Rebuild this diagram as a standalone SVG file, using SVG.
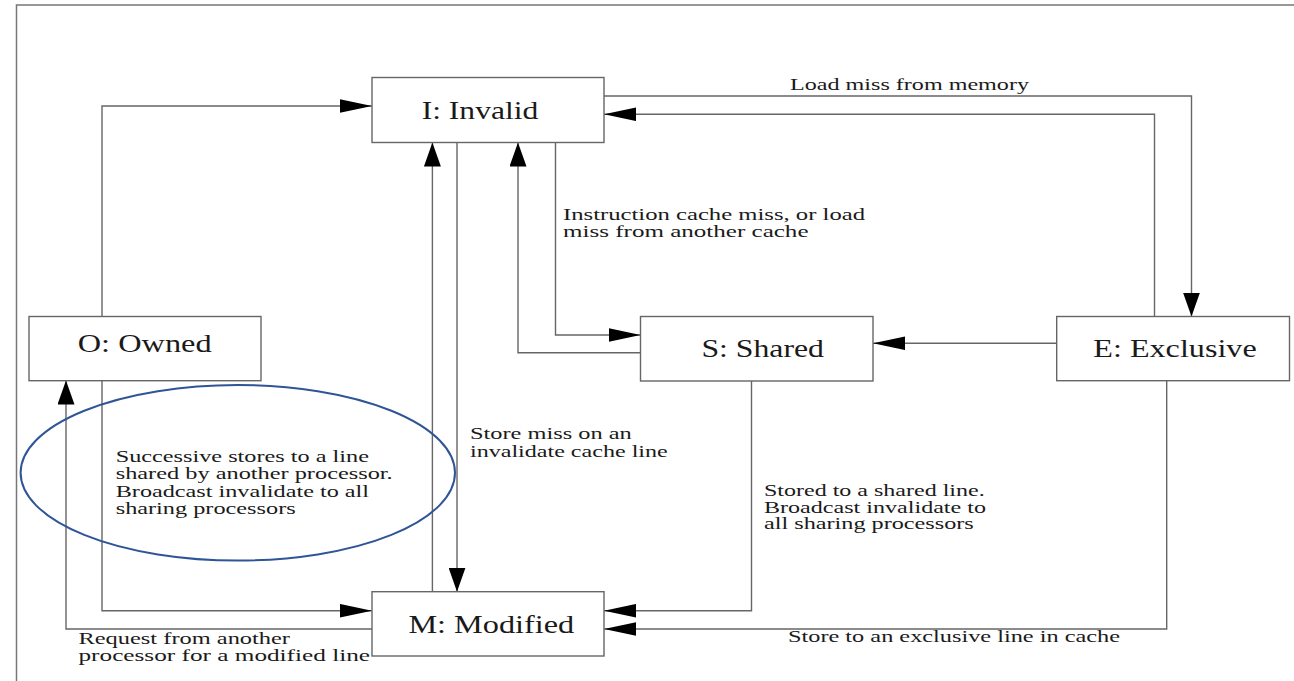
<svg xmlns="http://www.w3.org/2000/svg" width="1294" height="681" viewBox="0 0 1294 681">
<style>
.box{fill:#fff;stroke:#666;stroke-width:1.4}
.lbl{font-size:26px;fill:#1a1a1a}
.t{font-size:16px;fill:#1a1a1a}
.ln{fill:none;stroke:#666;stroke-width:1.4}
.frame{fill:none;stroke:#777;stroke-width:1.5}
</style>
<defs>
<marker id="ah" markerUnits="userSpaceOnUse" markerWidth="32" markerHeight="14" refX="32" refY="6.75" orient="auto" viewBox="0 0 32 13.5">
<path d="M0,0 L32,6.75 L0,13.5 z" fill="#000"/>
</marker>
<marker id="av" markerUnits="userSpaceOnUse" markerWidth="24" markerHeight="17" refX="24" refY="8.5" orient="auto" viewBox="0 0 24 17">
<path d="M0,0 L24,8.5 L0,17 z" fill="#000"/>
</marker>
</defs>
<rect width="1294" height="681" fill="#fff"/>
<path class="frame" d="M16.5,681 V5 H1294"/>

<g font-family="'Liberation Serif', 'DejaVu Serif', serif">
<g id="connectors">
<path class="ln" marker-end="url(#ah)" d="M102,316.5 V106 H372"/>
<path class="ln" marker-end="url(#ah)" d="M102,380.5 V610.7 H372"/>
<path class="ln" marker-end="url(#av)" d="M372,629 H66 V380.5"/>
<path class="ln" marker-end="url(#av)" d="M432.4,591.7 V142.5"/>
<path class="ln" marker-end="url(#av)" d="M457,142.5 V591.7"/>
<path class="ln" marker-end="url(#av)" d="M640.5,352.7 H518 V142.5"/>
<path class="ln" marker-end="url(#ah)" d="M555.5,142.5 V335 H640.5"/>
<path class="ln" marker-end="url(#av)" d="M604,96 H1191.5 V316.5"/>
<path class="ln" marker-end="url(#ah)" d="M1154.5,316.5 V114.3 H604"/>
<path class="ln" marker-end="url(#ah)" d="M1056.7,343.3 H873"/>
<path class="ln" marker-end="url(#ah)" d="M751.5,381 V610.7 H604"/>
<path class="ln" marker-end="url(#ah)" d="M1166.7,380.7 V629 H604"/>
<text class="t" x="790" y="90" textLength="239" lengthAdjust="spacingAndGlyphs">Load miss from memory</text>
<text class="t" x="563" y="219.5" textLength="302" lengthAdjust="spacingAndGlyphs">Instruction cache miss, or load</text>
<text class="t" x="563" y="237" textLength="245.5" lengthAdjust="spacingAndGlyphs">miss from another cache</text>
<text class="t" x="470" y="439" textLength="161.7" lengthAdjust="spacingAndGlyphs">Store miss on an</text>
<text class="t" x="470" y="456.7" textLength="197.7" lengthAdjust="spacingAndGlyphs">invalidate cache line</text>
<text class="t" x="764" y="496" textLength="220.7" lengthAdjust="spacingAndGlyphs">Stored to a shared line.</text>
<text class="t" x="764" y="512.7" textLength="222" lengthAdjust="spacingAndGlyphs">Broadcast invalidate to</text>
<text class="t" x="764" y="529" textLength="209.8" lengthAdjust="spacingAndGlyphs">all sharing processors</text>
<text class="t" x="78.5" y="644" textLength="211.5" lengthAdjust="spacingAndGlyphs">Request from another</text>
<text class="t" x="78.5" y="661" textLength="291.5" lengthAdjust="spacingAndGlyphs">processor for a modified line</text>
<text class="t" x="788" y="642" textLength="332" lengthAdjust="spacingAndGlyphs">Store to an exclusive line in cache</text>
</g>

<g id="note">
<ellipse cx="237.8" cy="472.8" rx="217.2" ry="87.8" fill="none" stroke="#2F5597" stroke-width="2"/>
<text class="t" x="115.7" y="461.5" textLength="253.3" lengthAdjust="spacingAndGlyphs">Successive stores to a line</text>
<text class="t" x="115.7" y="479" textLength="277" lengthAdjust="spacingAndGlyphs">shared by another processor.</text>
<text class="t" x="115.7" y="496.5" textLength="253.3" lengthAdjust="spacingAndGlyphs">Broadcast invalidate to all</text>
<text class="t" x="115.7" y="514" textLength="180" lengthAdjust="spacingAndGlyphs">sharing processors</text>
</g>

<g id="node-invalid">
<rect class="box" x="372" y="77.5" width="232" height="65"/>
<text class="lbl" x="421.7" y="119" textLength="116.6" lengthAdjust="spacingAndGlyphs">I: Invalid</text>
</g>
<g id="node-owned">
<rect class="box" x="29" y="316.5" width="232" height="64.2"/>
<text class="lbl" x="77.7" y="352" textLength="134" lengthAdjust="spacingAndGlyphs">O: Owned</text>
</g>
<g id="node-shared">
<rect class="box" x="640.5" y="316.5" width="232.5" height="64.5"/>
<text class="lbl" x="701.4" y="357" textLength="122.6" lengthAdjust="spacingAndGlyphs">S: Shared</text>
</g>
<g id="node-exclusive">
<rect class="box" x="1056.7" y="316.5" width="232.8" height="64.2"/>
<text class="lbl" x="1093.3" y="357.3" textLength="163.4" lengthAdjust="spacingAndGlyphs">E: Exclusive</text>
</g>
<g id="node-modified">
<rect class="box" x="372" y="591.7" width="232" height="64.3"/>
<text class="lbl" x="408.4" y="632.7" textLength="165.8" lengthAdjust="spacingAndGlyphs">M: Modified</text>
</g>
</g>
</svg>
